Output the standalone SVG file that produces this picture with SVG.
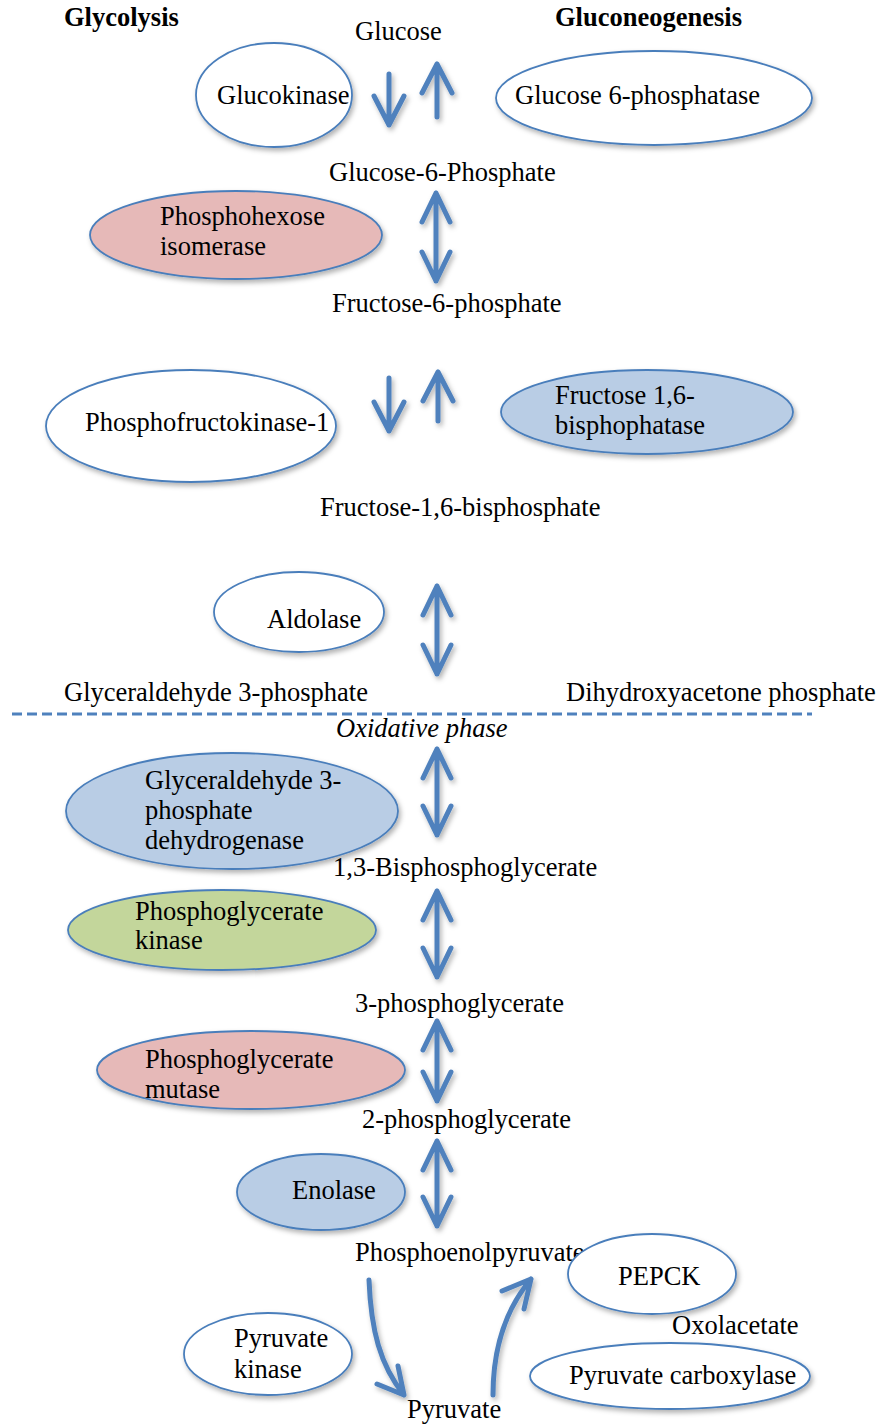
<svg xmlns="http://www.w3.org/2000/svg" width="880" height="1424" viewBox="0 0 880 1424">
  <defs>
    <filter id="shadow" x="-20%" y="-20%" width="150%" height="150%">
      <feDropShadow dx="2" dy="3" stdDeviation="2.5" flood-color="#000" flood-opacity="0.3"/>
    </filter>
  </defs>
  <style>
    text { font-family: "Liberation Serif", "Times New Roman", serif; font-size: 26.5px; fill: #000; }
    .head { font-weight: bold; }
    .ital { font-style: italic; }
    .enz { stroke: #4a7ebb; stroke-width: 1.8; filter: url(#shadow); }
    .white { fill: #fff; }
    .red { fill: #e6b9b8; }
    .blue { fill: #b9cde5; }
    .green { fill: #c3d69b; }
    .arrow { fill: none; stroke: #4f81bd; stroke-width: 5; stroke-linecap: round; stroke-linejoin: round; }
    .divider { fill: none; stroke: #4f81bd; stroke-width: 3; stroke-dasharray: 10 5; }
  </style>

  <rect width="880" height="1424" fill="#fff"/>

  <!-- headings -->
  <text class="head" x="64" y="26">Glycolysis</text>
  <text class="head" x="555" y="26">Gluconeogenesis</text>

  <!-- metabolites -->
  <g id="metabolites">
    <text x="355" y="40">Glucose</text>
    <text x="329" y="181">Glucose-6-Phosphate</text>
    <text x="332" y="312">Fructose-6-phosphate</text>
    <text x="320" y="516">Fructose-1,6-bisphosphate</text>
    <text x="64" y="701">Glyceraldehyde 3-phosphate</text>
    <text x="566" y="701">Dihydroxyacetone phosphate</text>
    <text x="333" y="876">1,3-Bisphosphoglycerate</text>
    <text x="355" y="1012">3-phosphoglycerate</text>
    <text x="362" y="1128">2-phosphoglycerate</text>
    <text x="355" y="1261">Phosphoenolpyruvate</text>
    <text x="672" y="1334">Oxolacetate</text>
    <text x="407" y="1418">Pyruvate</text>
  </g>

  <!-- phase divider -->
  <g id="divider">
    <line class="divider" x1="12" y1="714" x2="812" y2="714"/>
    <text class="ital" x="336" y="737">Oxidative phase</text>
  </g>

  <!-- enzymes -->
  <g id="glucokinase">
    <ellipse class="enz white" cx="274" cy="95" rx="78" ry="52"/>
    <text x="217" y="104">Glucokinase</text>
  </g>
  <g id="glucose-6-phosphatase">
    <ellipse class="enz white" cx="654" cy="98" rx="158" ry="47"/>
    <text x="515" y="104">Glucose 6-phosphatase</text>
  </g>
  <g id="phosphohexose-isomerase">
    <ellipse class="enz red" cx="236" cy="235" rx="146" ry="44"/>
    <text x="160" y="225">Phosphohexose</text>
    <text x="160" y="255">isomerase</text>
  </g>
  <g id="phosphofructokinase-1">
    <ellipse class="enz white" cx="191" cy="426" rx="145" ry="56"/>
    <text x="85" y="431">Phosphofructokinase-1</text>
  </g>
  <g id="fructose-bisphosphatase">
    <ellipse class="enz blue" cx="647" cy="412" rx="146" ry="42"/>
    <text x="555" y="404">Fructose 1,6-</text>
    <text x="555" y="434">bisphophatase</text>
  </g>
  <g id="aldolase">
    <ellipse class="enz white" cx="299" cy="612" rx="85" ry="40"/>
    <text x="267" y="628">Aldolase</text>
  </g>
  <g id="gapdh">
    <ellipse class="enz blue" cx="232" cy="811" rx="166" ry="58"/>
    <text x="145" y="789">Glyceraldehyde 3-</text>
    <text x="145" y="819">phosphate</text>
    <text x="145" y="849">dehydrogenase</text>
  </g>
  <g id="phosphoglycerate-kinase">
    <ellipse class="enz green" cx="222" cy="930" rx="154" ry="40"/>
    <text x="135" y="920">Phosphoglycerate</text>
    <text x="135" y="949">kinase</text>
  </g>
  <g id="phosphoglycerate-mutase">
    <ellipse class="enz red" cx="251" cy="1070" rx="154" ry="39"/>
    <text x="145" y="1068">Phosphoglycerate</text>
    <text x="145" y="1098">mutase</text>
  </g>
  <g id="enolase">
    <ellipse class="enz blue" cx="321" cy="1192" rx="84" ry="38"/>
    <text x="292" y="1199">Enolase</text>
  </g>
  <g id="pepck">
    <ellipse class="enz white" cx="652" cy="1274" rx="84" ry="40"/>
    <text x="618" y="1285">PEPCK</text>
  </g>
  <g id="pyruvate-kinase">
    <ellipse class="enz white" cx="268" cy="1354" rx="84" ry="41"/>
    <text x="234" y="1347">Pyruvate</text>
    <text x="234" y="1378">kinase</text>
  </g>
  <g id="pyruvate-carboxylase">
    <ellipse class="enz white" cx="670" cy="1376" rx="140" ry="33"/>
    <text x="569" y="1384">Pyruvate carboxylase</text>
  </g>

  <!-- reaction arrows -->
  <g id="connectors" filter="url(#shadow)">
    <!-- glucose <-> G6P -->
    <path class="arrow" d="M389 74 V125 M374 96 L389 125 L404 96"/>
    <path class="arrow" d="M437 117 V64 M422 93 L437 64 L452 93"/>
    <!-- G6P <-> F6P -->
    <path class="arrow" d="M436 193 V281 M422 222 L436 193 L450 222 M422 252 L436 281 L450 252"/>
    <!-- F6P <-> F1,6BP -->
    <path class="arrow" d="M389 378 V431 M374 402 L389 431 L404 402"/>
    <path class="arrow" d="M438 421 V372 M423 401 L438 372 L453 401"/>
    <!-- F1,6BP <-> triose phosphates -->
    <path class="arrow" d="M437 586 V674 M423 615 L437 586 L451 615 M423 645 L437 674 L451 645"/>
    <!-- G3P <-> 1,3-BPG -->
    <path class="arrow" d="M437 749 V835 M423 778 L437 749 L451 778 M423 806 L437 835 L451 806"/>
    <!-- 1,3-BPG <-> 3PG -->
    <path class="arrow" d="M437 891 V977 M423 920 L437 891 L451 920 M423 948 L437 977 L451 948"/>
    <!-- 3PG <-> 2PG -->
    <path class="arrow" d="M437 1021 V1101 M423 1050 L437 1021 L451 1050 M423 1072 L437 1101 L451 1072"/>
    <!-- 2PG <-> PEP -->
    <path class="arrow" d="M437 1141 V1226 M423 1170 L437 1141 L451 1170 M423 1197 L437 1226 L451 1197"/>
    <!-- PEP -> pyruvate -->
    <path class="arrow" d="M369 1280 C371 1330 380 1365 404 1395 M377 1384 L404 1395 L398 1366"/>
    <!-- pyruvate -> PEP -->
    <path class="arrow" d="M493 1395 C493 1350 505 1310 531 1279 M502 1291 L531 1279 L524 1309"/>
  </g>
</svg>
